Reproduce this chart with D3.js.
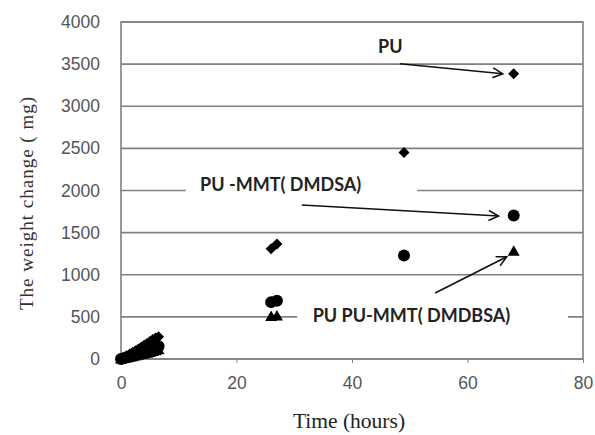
<!DOCTYPE html>
<html>
<head>
<meta charset="utf-8">
<script src="https://cdn.jsdelivr.net/npm/d3@7"></script>
<style>
  body { margin: 0; background: #fff; }
  svg { display: block; }
</style>
</head>
<body>
<script>
// early readings every half hour, then the long runs
var earlyTimes = [0, 0.5, 1, 1.5, 2, 2.5, 3, 3.5, 4, 4.5, 5, 5.5, 6, 6.5]
var puEarly     = [0, 18, 38, 58, 78, 98, 118, 140, 162, 185, 208, 230, 250, 265]
var dmdsaEarly  = [0, 10, 20, 30, 42, 52, 64, 76, 88, 100, 112, 124, 136, 150]
var dmdbsaEarly = [0, 6, 12, 20, 28, 36, 44, 52, 60, 68, 78, 88, 98, 110]

var puLateTimes = [26, 27, 49, 68]
var puLate      = [1310, 1365, 2450, 3385]
var dmdsaLateTimes = [26, 27, 49, 68]
var dmdsaLate      = [675, 690, 1228, 1702]
var dmdbsaLateTimes = [26, 27, 68]
var dmdbsaLate      = [505, 510, 1278]

var xTicks = [0, 20, 40, 60, 80]
var yTicks = [0, 500, 1000, 1500, 2000, 2500, 3000, 3500, 4000]

function joinSeries(t1, v1, t2, v2) {
  var out = []
  for (var i = 0; i < t1.length; i++) out.push({t: t1[i], v: v1[i]})
  for (var j = 0; j < t2.length; j++) out.push({t: t2[j], v: v2[j]})
  return out
}

var series = [
  {name: "PU", shape: "diamond", points: joinSeries(earlyTimes, puEarly, puLateTimes, puLate)},
  {name: "PU-MMT(DMDSA)", shape: "circle", points: joinSeries(earlyTimes, dmdsaEarly, dmdsaLateTimes, dmdsaLate)},
  {name: "PU-MMT(DMDBSA)", shape: "triangle", points: joinSeries(earlyTimes, dmdbsaEarly, dmdbsaLateTimes, dmdbsaLate)}
]

var width = 595, height = 435
var margin = {left: 121, right: 12, top: 22, bottom: 76}

var svg = d3.select("body").append("svg")
    .attr("width", width).attr("height", height)

var x = d3.scaleLinear().domain([0, 80]).range([margin.left, width - margin.right])
var y = d3.scaleLinear().domain([0, 4000]).range([height - margin.bottom, margin.top])

var gridColor = "#808080"

// gridlines
svg.append("g").selectAll("line")
    .data(yTicks)
    .enter().append("line")
    .attr("x1", x(0)).attr("x2", x(80))
    .attr("y1", function(d) { return y(d) }).attr("y2", function(d) { return y(d) })
    .attr("stroke", gridColor).attr("stroke-width", 1.6)

// frame
svg.append("rect")
    .attr("x", x(0)).attr("y", y(4000))
    .attr("width", x(80) - x(0)).attr("height", y(0) - y(4000))
    .attr("fill", "none").attr("stroke", gridColor).attr("stroke-width", 1.6)

// axes
var xAxis = svg.append("g")
    .attr("transform", "translate(0," + y(0) + ")")
    .call(d3.axisBottom(x).tickValues(xTicks).tickSize(4).tickPadding(14).tickFormat(d3.format("d")))
xAxis.select(".domain").remove()
xAxis.selectAll("line").attr("stroke", gridColor)

var yAxis = svg.append("g")
    .attr("transform", "translate(" + x(0) + ",0)")
    .call(d3.axisLeft(y).tickValues(yTicks).tickSize(0).tickPadding(21).tickFormat(d3.format("d")))
yAxis.select(".domain").remove()

svg.selectAll(".tick text")
    .attr("font-family", "Liberation Sans, Arial, sans-serif")
    .attr("font-size", 17.5)
    .attr("fill", "#555")

// axis titles
svg.append("text")
    .attr("x", 349).attr("y", 428)
    .attr("text-anchor", "middle")
    .attr("font-family", "Liberation Serif, Times New Roman, serif")
    .attr("font-size", 21.5)
    .attr("fill", "#222")
    .text("Time  (hours)")

svg.append("text")
    .attr("transform", "translate(33,203) rotate(-90)")
    .attr("text-anchor", "middle")
    .attr("font-family", "Liberation Serif, Times New Roman, serif")
    .attr("font-size", 19)
    .attr("letter-spacing", 1.0)
    .attr("fill", "#333")
    .text("The weight change ( mg)")

// annotation boxes (white, they hide the gridlines)
var boxes = [
  {t0: 11.2, t1: 51.3, v0: 1850, v1: 2140},
  {t0: 30.5, t1: 77.4, v0: 360, v1: 640}
]
svg.append("g").selectAll("rect")
    .data(boxes)
    .enter().append("rect")
    .attr("x", function(d) { return x(d.t0) })
    .attr("width", function(d) { return x(d.t1) - x(d.t0) })
    .attr("y", function(d) { return y(d.v1) })
    .attr("height", function(d) { return y(d.v0) - y(d.v1) })
    .attr("fill", "#fff")

// markers
function shapePath(shape) {
  if (shape == "diamond") return "M0,-5.5L5.5,0L0,5.5L-5.5,0Z"
  if (shape == "triangle") return "M0,-6L6,4.5L-6,4.5Z"
  return d3.symbol().type(d3.symbolCircle).size(Math.PI * 36)()
}

series.forEach(function(s) {
  svg.append("g").selectAll("path")
      .data(s.points)
      .enter().append("path")
      .attr("d", shapePath(s.shape))
      .attr("transform", function(d) { return "translate(" + x(d.t) + "," + y(d.v) + ")" })
      .attr("fill", "#000")
})

// labels and arrows
var notes = [
  {text: "PU", t: 44.5, v: 3630, from: [48.3, 3505], to: [66.1, 3385]},
  {text: "PU -MMT( DMDSA)", t: 13.7, v: 1990, from: [31.3, 1828], to: [65.4, 1697]},
  {text: "PU PU-MMT( DMDBSA)", t: 33.2, v: 440, from: [54.4, 783], to: [66.8, 1213]}
]

svg.append("defs").append("marker")
    .attr("id", "arrow")
    .attr("viewBox", "0 0 12 12")
    .attr("refX", 11).attr("refY", 6)
    .attr("markerWidth", 12).attr("markerHeight", 12)
    .attr("markerUnits", "userSpaceOnUse")
    .attr("orient", "auto")
  .append("path")
    .attr("d", "M1,1L11,6L1,11")
    .attr("fill", "none").attr("stroke", "#111").attr("stroke-width", 1.5)

var noteG = svg.append("g")
noteG.selectAll("line")
    .data(notes)
    .enter().append("line")
    .attr("x1", function(d) { return x(d.from[0]) }).attr("y1", function(d) { return y(d.from[1]) })
    .attr("x2", function(d) { return x(d.to[0]) }).attr("y2", function(d) { return y(d.to[1]) })
    .attr("stroke", "#111").attr("stroke-width", 1.6)
    .attr("marker-end", "url(#arrow)")

noteG.selectAll("text")
    .data(notes)
    .enter().append("text")
    .attr("x", function(d) { return x(d.t) }).attr("y", function(d) { return y(d.v) })
    .attr("font-family", "Lato, Open Sans, sans-serif")
    .attr("font-weight", "bold")
    .attr("font-size", 18)
    .attr("fill", "#222")
    .text(function(d) { return d.text })
</script>
</body>
</html>
